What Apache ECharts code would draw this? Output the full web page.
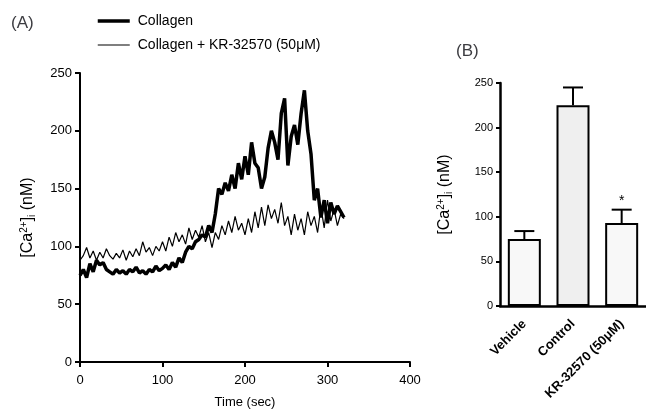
<!DOCTYPE html>
<html><head><meta charset="utf-8">
<script src="https://cdn.jsdelivr.net/npm/echarts@6/dist/echarts.min.js"></script>
<style>html,body{margin:0;padding:0;background:#fff}#c{width:646px;height:414px}</style>
</head><body><div id="c"></div>
<script>
// Panel A: time course (sec)
const timeStep = 4;
const collagen = [75, 80, 73, 85, 78, 88, 84, 86, 80, 78, 76,
  80, 77, 79, 76, 80, 78, 82, 77, 79, 76, 80, 78, 83, 79, 81,
  84, 80, 86, 82, 90, 86, 95, 100, 98, 104,
  106, 110, 108, 118, 112, 128, 150,
  145, 155, 148, 162, 150, 172, 158, 178, 162, 190, 172, 168, 150,
  160, 185, 200, 190, 175, 215, 228, 170, 195, 205, 188, 215,
  235, 200, 180, 140, 150, 125, 140, 120, 138, 128, 135, 130, 125];
const collagenKR = [88, 92, 99, 90, 96, 88, 95, 90, 98, 92, 89,
  94, 90, 97, 88, 96, 91, 98, 92, 104, 95, 99, 92, 100, 96, 104,
  96, 108, 100, 112, 104, 110, 102, 116, 106, 114,
  108, 118, 104, 112, 99, 112, 106,
  118, 110, 122, 112, 126, 114, 120, 110, 124, 112, 130, 116, 134,
  118, 136, 124, 132, 120, 138, 118, 126, 110, 128, 114, 124,
  110, 130, 118, 126, 112, 134, 116, 140, 122, 132, 118, 128, 124];
const seriesNames = ['Collagen', 'Collagen + KR-32570 (50\u03bcM)'];
// Panel B: bar chart
const groups = ['Vehicle', 'Control', 'KR-32570 (50\u03bcM)'];
const means = [75, 225, 93];
const errUpper = [84, 245, 108];
const sig = ['', '', '*'];

const lineWidths = [3.5, 1.2];
const pairsA = collagen.map((v, i) => [i * timeStep, v]);
const pairsB = collagenKR.map((v, i) => [i * timeStep, v]);
const font = "'Liberation Sans', Arial, sans-serif";
const nameRich = {
  sup: {fontSize: 10, verticalAlign: 'top', padding: [0, 0, 8, 0], fontFamily: font, color: '#000'},
  sub: {fontSize: 10, verticalAlign: 'bottom', padding: [7, 0, 0, 0], fontFamily: font, color: '#000'}
};

const chart = echarts.init(document.getElementById('c'));
chart.setOption({
  animation: false,
  textStyle: {fontFamily: font, color: '#000'},
  title: [
    {text: '(A)', left: 6, top: 10, textStyle: {fontSize: 17, fontWeight: 'normal', fontFamily: font}},
    {text: '(B)', left: 451, top: 38, textStyle: {fontSize: 17, fontWeight: 'normal', fontFamily: font}}
  ],
  legend: {
    data: seriesNames.map((n, i) => ({name: n, itemStyle: {opacity: 0}, lineStyle: {width: lineWidths[i], color: '#000'}})),
    orient: 'vertical', left: 91, top: 9, itemWidth: 32, itemHeight: 10, itemGap: 10,
    textStyle: {fontSize: 14, fontFamily: font, color: '#000', padding: [0, 0, 0, 3]}
  },
  grid: [
    {left: 80, right: 236, top: 73, bottom: 51},
    {left: 500, right: -2, top: 83, bottom: 108}
  ],
  xAxis: [
    {type: 'value', gridIndex: 0, min: 0, max: 400, interval: 100,
     name: 'Time (sec)', nameLocation: 'middle', nameGap: 34, nameTextStyle: {fontSize: 13, color: '#000'},
     axisLine: {lineStyle: {color: '#000', width: 2}}, axisTick: {length: 5, lineStyle: {width: 2, color: '#000'}},
     axisLabel: {fontSize: 13, color: '#000', margin: 12}, splitLine: {show: false}},
    {type: 'category', gridIndex: 1, data: groups, boundaryGap: true,
     axisLine: {lineStyle: {color: '#000', width: 2.5}},
     axisTick: {alignWithLabel: true, length: 6, lineStyle: {width: 2, color: '#000'}},
     axisLabel: {rotate: 45, fontSize: 13, fontWeight: 'bold', color: '#000', margin: 16, interval: 0}}
  ],
  yAxis: [
    {type: 'value', gridIndex: 0, min: 0, max: 250, interval: 50,
     name: '[Ca{sup|2+}]{sub|i} (nM)', nameLocation: 'middle', nameRotate: 90, nameGap: 43,
     nameTextStyle: {fontSize: 16, color: '#000', rich: nameRich},
     axisLine: {show: true, lineStyle: {color: '#000', width: 2}}, axisTick: {show: true, length: 5, lineStyle: {width: 2, color: '#000'}},
     axisLabel: {fontSize: 13, color: '#000', margin: 8}, splitLine: {show: false}},
    {type: 'value', gridIndex: 1, min: 0, max: 250, interval: 50,
     name: '[Ca{sup|2+}]{sub|i} (nM)', nameLocation: 'middle', nameRotate: 90, nameGap: 46,
     nameTextStyle: {fontSize: 16, color: '#000', rich: nameRich},
     axisLine: {show: true, lineStyle: {color: '#000', width: 2.5}}, axisTick: {show: true, length: 4, lineStyle: {width: 2, color: '#000'}},
     axisLabel: {fontSize: 11, color: '#000', margin: 7}, splitLine: {show: false}}
  ],
  series: [
    {name: seriesNames[0], type: 'line', xAxisIndex: 0, yAxisIndex: 0, data: pairsA, symbol: 'none',
     lineStyle: {color: '#000', width: lineWidths[0]}, itemStyle: {color: '#000'}},
    {name: seriesNames[1], type: 'line', xAxisIndex: 0, yAxisIndex: 0, data: pairsB, symbol: 'none',
     lineStyle: {color: '#000', width: lineWidths[1]}, itemStyle: {color: '#000'}},
    {type: 'bar', xAxisIndex: 1, yAxisIndex: 1, barWidth: 33,
     data: means.map((v, i) => ({value: v, itemStyle: {color: i === 1 ? '#efefef' : '#f8f8f8'}})),
     itemStyle: {borderColor: '#000', borderWidth: 2}},
    {type: 'custom', xAxisIndex: 1, yAxisIndex: 1, z: 5,
     data: groups.map((g, i) => [i, means[i], errUpper[i]]),
     renderItem: function (params, api) {
       const i = api.value(0);
       const top = api.coord([i, api.value(2)]);
       const base = api.coord([i, api.value(1)]);
       const children = [
         {type: 'line', shape: {x1: top[0], y1: base[1], x2: top[0], y2: top[1]}, style: {stroke: '#000', lineWidth: 2}},
         {type: 'line', shape: {x1: top[0] - 10, y1: top[1], x2: top[0] + 10, y2: top[1]}, style: {stroke: '#000', lineWidth: 2}}
       ];
       if (sig[i]) {
         children.push({type: 'text', x: top[0], y: top[1] - 2,
           style: {text: sig[i], fontSize: 14, fontFamily: font, fill: '#000', align: 'center', verticalAlign: 'bottom'}});
       }
       return {type: 'group', children: children};
     }}
  ]
});
</script></body></html>
